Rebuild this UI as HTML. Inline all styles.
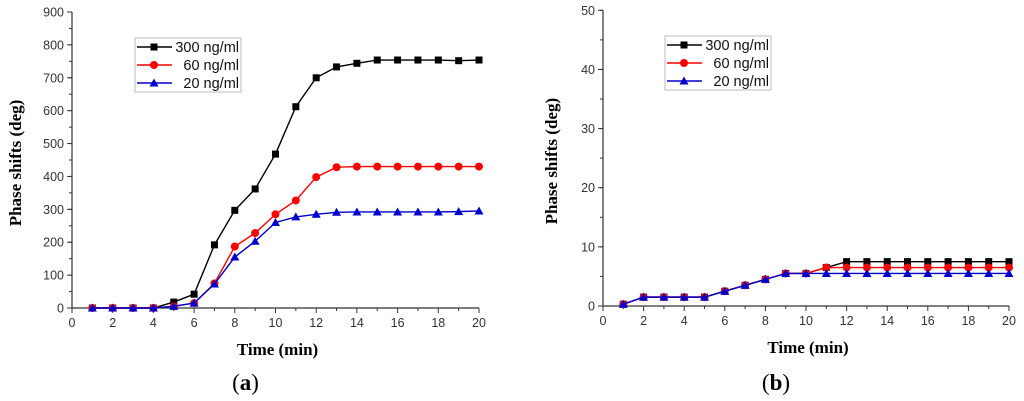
<!DOCTYPE html>
<html><head><meta charset="utf-8"><style>
html,body{margin:0;padding:0;background:#fff;overflow:hidden;}
svg{display:block;}
svg text{font-family:"Liberation Sans",sans-serif;}
.ser{font-family:"Liberation Serif",serif;font-weight:bold;}
</style></head><body>
<svg id="svg" width="1024" height="401" viewBox="0 0 1024 401" xmlns="http://www.w3.org/2000/svg"></svg>
<script>
const times=[1,2,3,4,5,6,7,8,9,10,11,12,13,14,15,16,17,18,19,20];
const seriesNames=["300 ng/ml","60 ng/ml","20 ng/ml"];
const a300=[0,0,0,0,18,42,192,297,362,468,612,700,733,744,754,754,754,754,752,754];
const a60=[0,0,0,0,5,15,75,187,228,285,327,398,428,430,430,430,430,430,430,430];
const a20=[0,0,0,0,5,15,73,155,203,260,277,285,291,292,292,292,292,292,293,295];
const b300=[0.3,1.5,1.5,1.5,1.5,2.5,3.5,4.5,5.5,5.5,6.5,7.5,7.5,7.5,7.5,7.5,7.5,7.5,7.5,7.5];
const b60=[0.3,1.5,1.5,1.5,1.5,2.5,3.5,4.5,5.5,5.5,6.5,6.5,6.5,6.5,6.5,6.5,6.5,6.5,6.5,6.5];
const b20=[0.3,1.5,1.5,1.5,1.5,2.5,3.5,4.5,5.5,5.5,5.5,5.5,5.5,5.5,5.5,5.5,5.5,5.5,5.5,5.5];
const xTicks=[0,2,4,6,8,10,12,14,16,18,20];
const aYTicks=[0,100,200,300,400,500,600,700,800,900];
const bYTicks=[0,10,20,30,40,50];
const colors=["#000","#f00","#00c"];
const NS="http://www.w3.org/2000/svg";
const svg=document.getElementById('svg');
function mk(tag,attrs,parent,txt){const e=document.createElementNS(NS,tag);for(const k in attrs)e.setAttribute(k,attrs[k]);if(txt!==undefined)e.textContent=txt;(parent||svg).appendChild(e);return e;}
function marker(g,type,x,y,c){
  let m;
  if(type==0)m=mk('rect',{x:x-3.5,y:y-3.5,width:7,height:7,fill:c},g);
  else if(type==1)m=mk('circle',{cx:x,cy:y,r:4,fill:c},g);
  else m=mk('polygon',{points:`${x},${y-4.5} ${x-4.5},${y+3.5} ${x+4.5},${y+3.5}`,fill:c},g);
  return m;
}
function chart(id,x0,x1,y0,y1,ymax,yTicks,minorStep,series,legX,legY,label,ytX){
  const sx=v=>x0+(x1-x0)*v/20, sy=v=>y0-(y0-y1)*v/ymax;
  const g=mk('g',{});
  
  
  const ax=mk('path',{d:`M${x0},${y1} V${y0} H${x1}`,stroke:'#333','stroke-width':1.2,fill:'none'},g);
  
  for(let v=0;v<=ymax+1e-9;v+=minorStep){mk('line',{x1:x0-3,x2:x0,y1:sy(v),y2:sy(v),stroke:'#333'},g);}
  yTicks.forEach(v=>{mk('line',{x1:x0-5,x2:x0,y1:sy(v),y2:sy(v),stroke:'#333'},g);
    const t=mk('text',{x:x0-8,y:sy(v)+4.5,'text-anchor':'end','font-size':12.5,fill:'#333'},g,String(v));
    });
  for(let v=0;v<=20;v++){mk('line',{x1:sx(v),x2:sx(v),y1:y0,y2:y0+(v%2?3:5),stroke:'#333'},g);}
  xTicks.forEach(v=>{const t=mk('text',{x:sx(v),y:y0+19,'text-anchor':'middle','font-size':12.5,fill:'#333'},g,String(v));
    });
  series.forEach((s,i)=>{
    const sg=mk('g',{},g);
    
    
    mk('polyline',{points:s.map((v,j)=>sx(times[j])+','+sy(v)).join(' '),fill:'none',stroke:colors[i],'stroke-width':1.4},sg);
    s.forEach((v,j)=>{const m=marker(sg,i,sx(times[j]),sy(v),colors[i]);
      });
  });
  const lg=mk('g',{},g);
  
  
  mk('rect',{x:legX,y:legY,width:106,height:54,fill:'#fff',stroke:'#bbb'},lg);
  seriesNames.forEach((n,i)=>{const yy=legY+9+i*18;
    mk('line',{x1:legX+2,x2:legX+37,y1:yy,y2:yy,stroke:colors[i],'stroke-width':1.4},lg);
    marker(lg,i,legX+19,yy,colors[i]);
    const t=mk('text',{x:legX+104,y:yy+5,'text-anchor':'end','font-size':14.5,fill:'#111'},lg,n);
    });
  const cy=(y0+y1)/2+3;
  const yt=mk('text',{x:ytX,y:cy,'text-anchor':'middle','font-size':17,class:'ser',transform:`rotate(-90 ${ytX} ${cy})`},g,'Phase shifts (deg)');
  
  const xt=mk('text',{x:(x0+x1)/2+2,y:y0+47,'text-anchor':'middle','font-size':17,class:'ser'},g,'Time (min)');
  
  const pl=mk('text',{x:(x0+x1)/2-30,y:390,'text-anchor':'middle','font-size':23,class:'ser'},g);
  
  mk('tspan',{'font-weight':'normal'},pl,'(');mk('tspan',{},pl,label);mk('tspan',{'font-weight':'normal'},pl,')');
}
chart('a',72,479,308,12,900,aYTicks,50,[a300,a60,a20],135,38,'a',21);
chart('b',603,1009,306,10.3,50,bYTicks,5,[b300,b60,b20],665,36,'b',557);
</script>
</body></html>
